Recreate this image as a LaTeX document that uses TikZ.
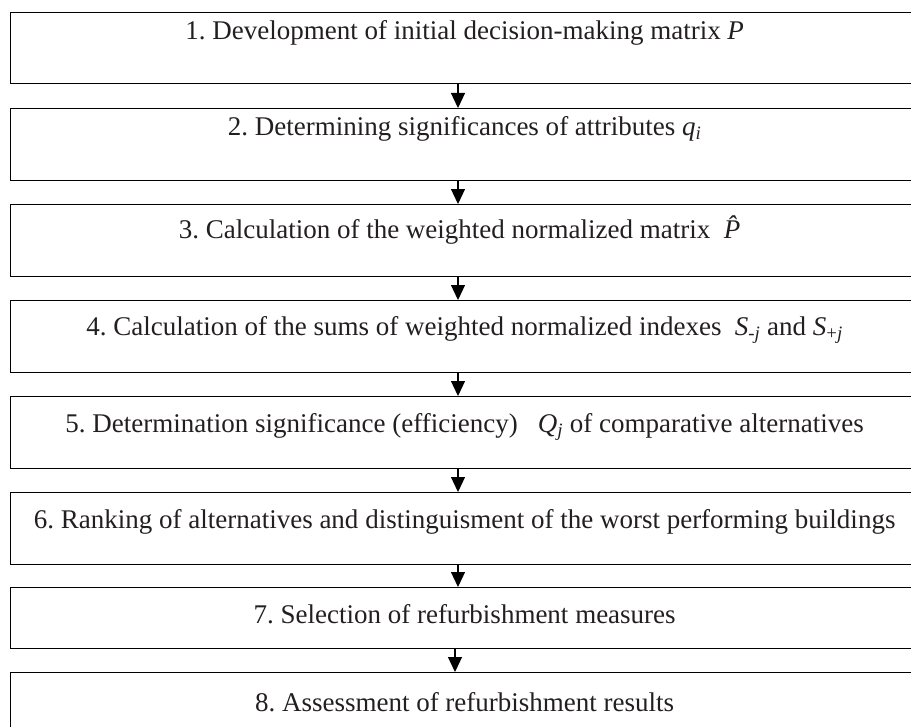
\documentclass[tikz,border=0pt]{standalone}
\usepackage{fontspec}
\setmainfont{Liberation Serif}
\usetikzlibrary{arrows.meta}
\definecolor{inkgray}{HTML}{231F20}
\frenchspacing
\tikzset{
  stepbox/.style={draw, rectangle, line width=1.2bp, inner xsep=0pt, inner ysep=0pt,
    minimum width=909bp, anchor=north west, text=inkgray,
    font=\fontsize{27bp}{30bp}\selectfont},
  flow/.style={line width=1.2bp, -{Triangle[length=15bp,width=14bp]}}
}
\begin{document}
\begin{tikzpicture}[x=1bp,y=-1bp]
\useasboundingbox (0,0) rectangle (911,727);
\node[stepbox, text height=27bp, text depth=44bp] (s1) at (9.5,12) {1. Development of initial decision-making matrix \textit{P}};
\node[stepbox, text height=27bp, text depth=45bp] (s2) at (9.5,108) {2. Determining significances of attributes \textit{q}\textsubscript{\textit{i}}};
\node[stepbox, text height=34bp, text depth=38bp] (s3) at (9.5,204) {3. Calculation of the weighted normalized matrix\ \ \textit{\^{P}}};
\node[stepbox, text height=35bp, text depth=37bp] (s4) at (9.5,300) {4. Calculation of the sums of weighted normalized indexes\ \ \textit{S}\textsubscript{-\textit{j}} and \textit{S}\textsubscript{+\textit{j}}};
\node[stepbox, text height=36bp, text depth=36bp] (s5) at (9.5,396) {5. Determination significance (efficiency)\ \ \ \textit{Q}\textsubscript{\textit{j}} of comparative alternatives};
\node[stepbox, text height=36bp, text depth=36bp] (s6) at (9.5,492) {6. Ranking of alternatives and distinguisment of the worst performing buildings};
\node[stepbox, text height=36bp, text depth=25bp] (s7) at (9.5,587) {7. Selection of refurbishment measures};
\node[stepbox, text height=39bp, text depth=34bp] (s8) at (9.5,672) {8. Assessment of refurbishment results};
\coordinate (ax) at (458,0);
\coordinate (bx) at (455,0);
\draw[flow] (s1.south -| ax) -- (s2.north -| ax);
\draw[flow] (s2.south -| ax) -- (s3.north -| ax);
\draw[flow] (s3.south -| ax) -- (s4.north -| ax);
\draw[flow] (s4.south -| ax) -- (s5.north -| ax);
\draw[flow] (s5.south -| ax) -- (s6.north -| ax);
\draw[flow] (s6.south -| ax) -- (s7.north -| ax);
\draw[flow] (s7.south -| bx) -- (s8.north -| bx);
\end{tikzpicture}
\end{document}
